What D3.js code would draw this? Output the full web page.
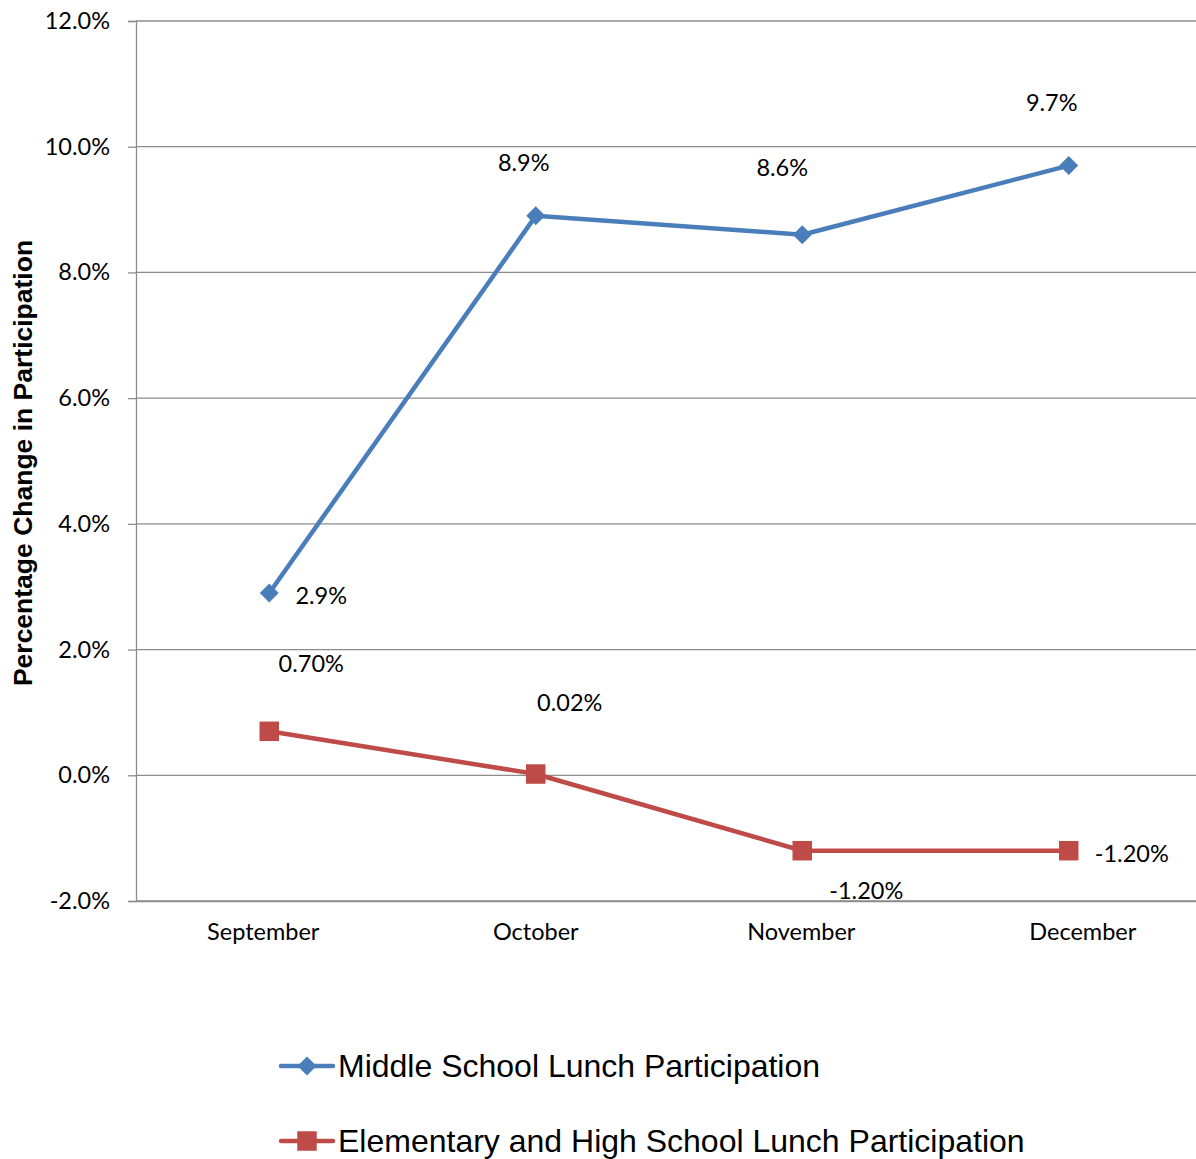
<!DOCTYPE html>
<html><head><meta charset="utf-8">
<script src="https://cdn.jsdelivr.net/npm/d3@7"></script>
<style>body{margin:0;background:#fff}svg{display:block}</style>
</head><body>
<svg id="c" width="1196" height="1159"></svg>
<script>
const categories = ["September", "October", "November", "December"];
const middleSchool = [2.9, 8.9, 8.6, 9.7];
const elemHigh = [0.70, 0.02, -1.20, -1.20];
const middleLabels = ["2.9%", "8.9%", "8.6%", "9.7%"];
const elemLabels = ["0.70%", "0.02%", "-1.20%", "-1.20%"];
const yTicks = [-2, 0, 2, 4, 6, 8, 10, 12];
const yTickLabels = ["-2.0%", "0.0%", "2.0%", "4.0%", "6.0%", "8.0%", "10.0%", "12.0%"];
const seriesNames = ["Middle School Lunch Participation", "Elementary and High School Lunch Participation"];

// layout (not data)
const middleLabelOffsets = [[52, 2], [-12, -54], [-20, -68], [-17, -64]];
const elemLabelOffsets = [[42, -68], [34, -72], [64, 39], [63, 2]];
const catLabelShift = [-6, 0, -1, 14];

const svg = d3.select("#c");
const L = 136, R = 1202, T = 21, B = 901;
const x = d3.scaleBand().domain(categories).range([L, R]);
const y = d3.scaleLinear().domain([-2, 12]).range([B, T]);
const cx = c => x(c) + x.bandwidth() / 2;
const tickFont = "Lato, 'Open Sans', sans-serif";
const fs = 23.5;

// gridlines
svg.append("g").selectAll("line").data(yTicks).join("line")
  .attr("x1", L).attr("x2", R).attr("y1", d => y(d)).attr("y2", d => y(d))
  .attr("stroke", "#8c8c8c").attr("stroke-width", 1.3);

// y axis
const yAxis = d3.axisLeft(y).tickValues(yTicks).tickSize(8).tickPadding(18)
  .tickFormat((d, i) => yTickLabels[i]);
const ga = svg.append("g").attr("transform", `translate(${L},0)`).call(yAxis);
ga.select(".domain").attr("stroke", "#8c8c8c").attr("stroke-width", 1.3);
ga.selectAll(".tick line").attr("stroke", "#8c8c8c").attr("stroke-width", 1.3);
ga.selectAll("text").attr("font-family", tickFont).attr("font-size", fs).attr("fill", "#000");

// x axis labels
const gx = d3.axisBottom(x).tickSize(0).tickPadding(22);
const gxa = svg.append("g").attr("transform", `translate(0,${B})`).call(gx);
gxa.select(".domain").attr("stroke", "#8c8c8c").attr("stroke-width", 1.3);
gxa.selectAll("text").attr("font-family", tickFont).attr("font-size", fs).attr("fill", "#000")
  .attr("dx", (d, i) => catLabelShift[i]);

// y axis title
svg.append("text").attr("transform", "translate(32,463) rotate(-90)")
  .attr("text-anchor", "middle").attr("font-family", "'Liberation Sans', Arial, sans-serif")
  .attr("font-weight", "bold").attr("font-size", 26.5).text("Percentage Change in Participation");

const blue = "#4a7ebb", red = "#be4b48";
const line = d3.line().x((d, i) => cx(categories[i])).y(d => y(d));

function drawSeries(vals, color, shape, labels, offs) {
  svg.append("path").datum(vals).attr("d", line).attr("fill", "none")
    .attr("stroke", color).attr("stroke-width", 4.5).attr("stroke-linejoin", "round");
  svg.append("g").selectAll("path").data(vals).join("path")
    .attr("d", d3.symbol().type(shape).size(shape === d3.symbolSquare ? 380 : 230))
    .attr("transform", (d, i) => `translate(${cx(categories[i])},${y(d)})`)
    .attr("fill", color);
  svg.append("g").selectAll("text").data(vals).join("text")
    .attr("x", (d, i) => cx(categories[i]) + offs[i][0])
    .attr("y", (d, i) => y(d) + offs[i][1])
    .attr("text-anchor", "middle").attr("dominant-baseline", "central")
    .attr("font-family", tickFont).attr("font-size", fs).attr("fill", "#000")
    .text((d, i) => labels[i]);
}
drawSeries(middleSchool, blue, d3.symbolDiamond2, middleLabels, middleLabelOffsets);
drawSeries(elemHigh, red, d3.symbolSquare, elemLabels, elemLabelOffsets);

// legend
const legend = [
  { name: seriesNames[0], color: blue, shape: d3.symbolDiamond2, y: 1066 },
  { name: seriesNames[1], color: red, shape: d3.symbolSquare, y: 1141 }
];
const lg = svg.append("g").selectAll("g").data(legend).join("g")
  .attr("transform", d => `translate(0,${d.y})`);
lg.append("line").attr("x1", 281).attr("x2", 333).attr("stroke", d => d.color)
  .attr("stroke-width", 4.5).attr("stroke-linecap", "round");
lg.append("path").attr("transform", "translate(307,0)")
  .attr("d", d => d3.symbol().type(d.shape).size(d.shape === d3.symbolSquare ? 380 : 230)())
  .attr("fill", d => d.color);
lg.append("text").attr("x", 338).attr("dy", "0.35em")
  .attr("font-family", "'Liberation Sans', Arial, sans-serif").attr("font-size", 32)
  .text(d => d.name);
</script>
</body></html>
